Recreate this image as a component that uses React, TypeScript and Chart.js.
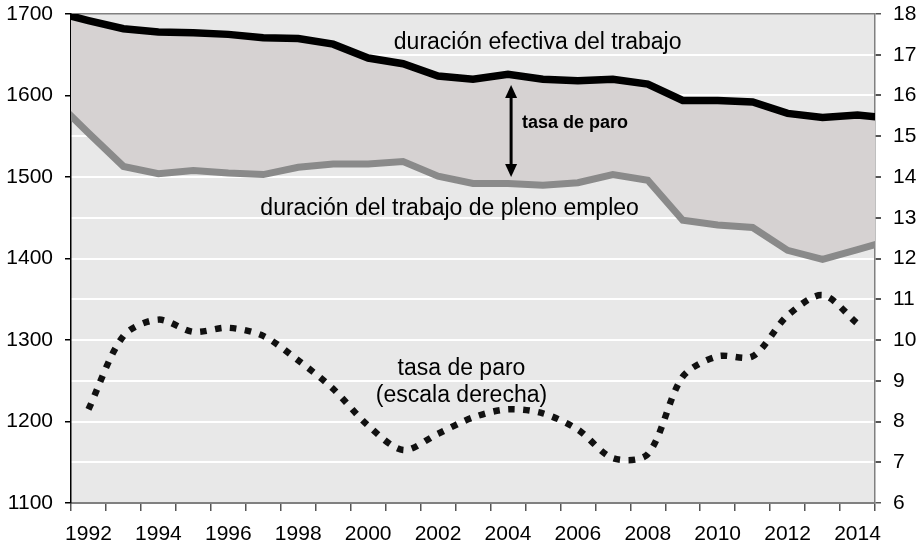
import React, { useEffect, useRef } from 'react';
import { Chart, registerables } from 'chart.js';

Chart.register(...registerables);

// Solid series years (edges extend just past the first / last category)
const lineYears = [1991, 1992, 1993, 1994, 1995, 1996, 1997, 1998, 1999, 2000, 2001, 2002, 2003, 2004, 2005, 2006, 2007, 2008, 2009, 2010, 2011, 2012, 2013, 2014, 2015];
const effectiveHours = [1703, 1692, 1682, 1678, 1677, 1675, 1671, 1670, 1663, 1646, 1639, 1624, 1620, 1626, 1620, 1618, 1620, 1614, 1594, 1594, 1592, 1578, 1573, 1576, 1572];
const fullEmploymentHours = [1596, 1554, 1513, 1504, 1508, 1505, 1503, 1512, 1516, 1516, 1519, 1501, 1492, 1492, 1490, 1493, 1503, 1496, 1447, 1441, 1438, 1410, 1399, 1411, 1423];

const unemploymentYears = [1992, 1993, 1994, 1995, 1996, 1997, 1998, 1999, 2000, 2001, 2002, 2003, 2004, 2005, 2006, 2007, 2008, 2009, 2010, 2011, 2012, 2013, 2014];
const unemploymentRate = [8.3, 10.1, 10.5, 10.2, 10.3, 10.1, 9.5, 8.8, 7.9, 7.3, 7.7, 8.1, 8.3, 8.2, 7.8, 7.1, 7.2, 9.1, 9.6, 9.6, 10.6, 11.1, 10.4];

const categoryYears = [1992, 1993, 1994, 1995, 1996, 1997, 1998, 1999, 2000, 2001, 2002, 2003, 2004, 2005, 2006, 2007, 2008, 2009, 2010, 2011, 2012, 2013, 2014];
const xLabelYears = [1992, 1994, 1996, 1998, 2000, 2002, 2004, 2006, 2008, 2010, 2012, 2014];

const labelEffective = 'duración efectiva del trabajo';
const labelFullEmployment = 'duración del trabajo de pleno empleo';
const labelGap = 'tasa de paro';
const labelRate1 = 'tasa de paro';
const labelRate2 = '(escala derecha)';

const TICK_FONT = { family: '"Liberation Sans", Arial, sans-serif', size: 21 };
const TEXT_FONT = '"Liberation Sans", Arial, sans-serif';

const bgPlugin = {
  id: 'plotBg',
  beforeDraw(chart: any) {
    const { ctx, chartArea } = chart;
    ctx.save();
    ctx.fillStyle = '#e8e8e8';
    ctx.fillRect(chartArea.left, chartArea.top, chartArea.right - chartArea.left, chartArea.bottom - chartArea.top);
    ctx.restore();
  },
};

const annotationPlugin = {
  id: 'annotations',
  afterDatasetsDraw(chart: any) {
    const { ctx } = chart;
    const x = chart.scales.x;
    const y = chart.scales.y;
    const y1 = chart.scales.y1;
    ctx.save();
    ctx.fillStyle = '#000';
    ctx.textBaseline = 'alphabetic';
    ctx.font = `23px ${TEXT_FONT}`;
    ctx.textAlign = 'center';
    ctx.fillText(labelEffective, x.getPixelForValue(2004.85), y.getPixelForValue(1657));
    ctx.fillText(labelFullEmployment, x.getPixelForValue(2002.33), y.getPixelForValue(1453.4));
    ctx.fillText(labelRate1, x.getPixelForValue(2002.67), y1.getPixelForValue(9.14));
    ctx.fillText(labelRate2, x.getPixelForValue(2002.67), y1.getPixelForValue(8.49));
    ctx.font = `bold 18px ${TEXT_FONT}`;
    ctx.textAlign = 'left';
    ctx.fillText(labelGap, x.getPixelForValue(2004.4), y.getPixelForValue(1559.8));

    // double arrow
    const ax = x.getPixelForValue(2004.09);
    const aTop = y.getPixelForValue(1612.9);
    const aBot = y.getPixelForValue(1500);
    const hw = 6;
    const hh = 13;
    ctx.strokeStyle = '#000';
    ctx.lineWidth = 3;
    ctx.beginPath();
    ctx.moveTo(ax, aTop + hh - 2);
    ctx.lineTo(ax, aBot - hh + 2);
    ctx.stroke();
    ctx.beginPath();
    ctx.moveTo(ax, aTop);
    ctx.lineTo(ax - hw, aTop + hh);
    ctx.lineTo(ax + hw, aTop + hh);
    ctx.closePath();
    ctx.fill();
    ctx.beginPath();
    ctx.moveTo(ax, aBot);
    ctx.lineTo(ax - hw, aBot - hh);
    ctx.lineTo(ax + hw, aBot - hh);
    ctx.closePath();
    ctx.fill();
    ctx.restore();
  },
};

export default function App() {
  const canvasRef = useRef<HTMLCanvasElement | null>(null);

  useEffect(() => {
    document.body.style.margin = '0';
    const canvas = canvasRef.current;
    if (!canvas) return;

    const chart = new Chart(canvas, {
      type: 'line',
      data: {
        datasets: [
          {
            label: labelEffective,
            data: lineYears.map((yr, i) => ({ x: yr, y: effectiveHours[i] })),
            borderColor: '#000000',
            borderWidth: 7.5,
            backgroundColor: '#d6d2d2',
            fill: '+1',
            pointRadius: 0,
            tension: 0,
            yAxisID: 'y',
            clip: 0,
          },
          {
            label: labelFullEmployment,
            data: lineYears.map((yr, i) => ({ x: yr, y: fullEmploymentHours[i] })),
            borderColor: '#8a8a8a',
            borderWidth: 7,
            fill: false,
            pointRadius: 0,
            tension: 0,
            yAxisID: 'y',
            clip: 0,
          },
          {
            label: labelRate1,
            data: unemploymentYears.map((yr, i) => ({ x: yr, y: unemploymentRate[i] })),
            borderColor: '#111111',
            borderWidth: 6.5,
            borderDash: [6.5, 8.5],
            borderCapStyle: 'butt',
            fill: false,
            pointRadius: 0,
            tension: 0.3,
            yAxisID: 'y1',
            clip: 0,
          },
        ],
      },
      options: {
        responsive: false,
        animation: false,
        devicePixelRatio: 1,
        layout: { padding: { left: 0, right: 0, top: 14, bottom: 0 } },
        plugins: {
          legend: { display: false },
          tooltip: { enabled: false },
          filler: { drawTime: 'beforeDatasetsDraw' },
        },
        scales: {
          x: {
            type: 'linear',
            min: 1991.5,
            max: 2014.5,
            afterBuildTicks: (scale: any) => {
              scale.ticks = categoryYears.map((v) => ({ value: v }));
            },
            afterFit: (scale: any) => {
              scale.height = 47;
            },
            ticks: {
              autoSkip: false,
              maxRotation: 0,
              minRotation: 0,
              padding: 11,
              color: '#000',
              font: TICK_FONT,
              callback: (v: any) => (xLabelYears.includes(Number(v)) ? String(v) : ''),
            },
            grid: {
              offset: true,
              drawOnChartArea: false,
              drawTicks: true,
              tickLength: 8,
              tickColor: '#555555',
              lineWidth: 1.5,
            },
            border: { color: '#808080', width: 2 },
          },
          y: {
            type: 'linear',
            position: 'left',
            min: 1100,
            max: 1700,
            afterFit: (scale: any) => {
              scale.width = 71;
              scale.paddingTop = 0;
              scale.paddingBottom = 0;
            },
            ticks: { stepSize: 100, padding: 12, color: '#000', font: TICK_FONT, callback: (v: any) => String(v) },
            grid: {
              drawOnChartArea: false,
              drawTicks: true,
              tickLength: 6,
              tickColor: '#000',
              lineWidth: 1.5,
            },
            border: { color: '#000000', width: 1.5 },
          },
          y1: {
            type: 'linear',
            position: 'right',
            min: 6,
            max: 18,
            afterFit: (scale: any) => {
              scale.width = 46;
              scale.paddingTop = 0;
              scale.paddingBottom = 0;
            },
            ticks: { stepSize: 1, padding: 12, color: '#000', font: TICK_FONT, callback: (v: any) => String(v) },
            grid: {
              drawOnChartArea: true,
              drawTicks: true,
              tickLength: 6,
              tickColor: '#555555',
              color: (ctx: any) => (ctx.tick && (ctx.tick.value === 18 || ctx.tick.value === 6) ? '#808080' : '#ffffff'),
              lineWidth: (ctx: any) => (ctx.tick && (ctx.tick.value === 18 || ctx.tick.value === 6) ? 1.5 : 2),
            },
            border: { color: '#808080', width: 1.5 },
          },
        },
      } as any,
      plugins: [bgPlugin, annotationPlugin],
    });

    return () => {
      chart.destroy();
    };
  }, []);

  return (
    <div style={{ width: 921, height: 550 }}>
      <canvas ref={canvasRef} width={921} height={550} style={{ display: 'block' }} />
    </div>
  );
}
